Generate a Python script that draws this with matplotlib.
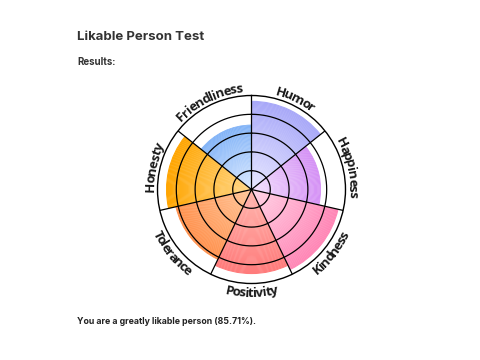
import numpy as np
import matplotlib
matplotlib.use("Agg")
import matplotlib.pyplot as plt
from matplotlib.colors import to_rgb
from matplotlib.font_manager import FontProperties

traits = ["Humor", "Happiness", "Kindness", "Positivity", "Tolerance", "Honesty", "Friendliness"]
scores = [4.72, 3.7, 4.75, 4.5, 4.15, 4.55, 3.45]
outer_colors = ["#a8a8f8", "#d48ff5", "#ff85b5", "#ff7b7b", "#ff914d", "#ffa500", "#7fb2f7"]
inner_colors = ["#e8e8ff", "#f3e3fd", "#ffd6e8", "#ffb8b0", "#ffc79a", "#ffd88a", "#dceaff"]
ring_levels = [1, 2, 3, 4]
max_score = 5
title = "Likable Person Test"
subtitle = "Results:"
result_text = "You are a greatly likable person (85.71%)."

fig = plt.figure(figsize=(4.8, 3.6), dpi=100)
ax = fig.add_axes([0.3281, 0.2125, 0.3917, 0.5222], projection='polar')
ax.set_theta_zero_location('N')
ax.set_theta_direction(-1)
ax.set_ylim(0, max_score)
ax.set_xticks([])
ax.set_yticks([])
ax.grid(False)
ax.spines['polar'].set_linewidth(1.0)
ax.spines['polar'].set_color('black')

n = len(traits)
width = 2 * np.pi / n
N = 80
for i, (v, co, ci) in enumerate(zip(scores, outer_colors, inner_colors)):
    c0 = np.array(to_rgb(ci))
    c1 = np.array(to_rgb(co))
    theta = i * width
    for k in range(N):
        t = (k + 0.5) / N
        col = c0 + (c1 - c0) * t
        h = v / N * (1.4 if k < N - 1 else 1.0)
        ax.bar(theta, h, bottom=v * k / N, width=width, align='edge',
               color=col, linewidth=0, zorder=1)

tt = np.linspace(0, 2 * np.pi, 721)
for r in ring_levels:
    ax.plot(tt, np.full_like(tt, r), color='black', lw=0.9, zorder=3)
for i in range(n):
    ax.plot([i * width, i * width], [0, max_score], color='black', lw=0.9, zorder=3)
ax.set_ylim(0, max_score)

# curved labels
renderer = fig.canvas.get_renderer()
prop = FontProperties(family='Open Sans', weight='bold', size=9.5)
bbox = ax.get_window_extent(renderer)
px_per_unit = bbox.width / 2 / max_score
r_out = 5.18
r_in = 5.72
tracking = 0.86


def tw(s):
    if not s:
        return 0.0
    return renderer.get_text_width_height_descent(s, prop, ismath=False)[0]


for i, lab in enumerate(traits):
    phi_c = (i + 0.5) * width
    phi_deg = np.degrees(phi_c)
    outward = (phi_deg < 90) or (phi_deg > 270)
    rb = r_out if outward else r_in
    R = rb * px_per_unit
    L = tw(lab)
    for j, ch in enumerate(lab):
        s = ((tw(lab[:j]) + tw(lab[:j + 1])) / 2 - L / 2) * tracking
        d = s / R
        if outward:
            phi = phi_c + d
            rot = -np.degrees(phi)
        else:
            phi = phi_c - d
            rot = 180 - np.degrees(phi)
        ax.text(phi, rb, ch, fontproperties=prop, rotation=rot, rotation_mode='anchor',
                ha='center', va='baseline', color='#1a1a1a', clip_on=False)

fig.text(77 / 480, 1 - 40 / 360, title, fontsize=9.5, fontweight='bold', family='Inter',
         va='baseline', ha='left', color='#333333')
fig.text(77 / 480, 1 - 65 / 360, subtitle, fontsize=7, fontweight='bold', family='Inter',
         va='baseline', ha='left', color='#333333')
fig.text(77 / 480, 1 - 324 / 360, result_text, fontsize=6.3, fontweight='bold', family='Inter',
         va='baseline', ha='left', color='#222222')

fig.savefig('out.png', dpi=100)
